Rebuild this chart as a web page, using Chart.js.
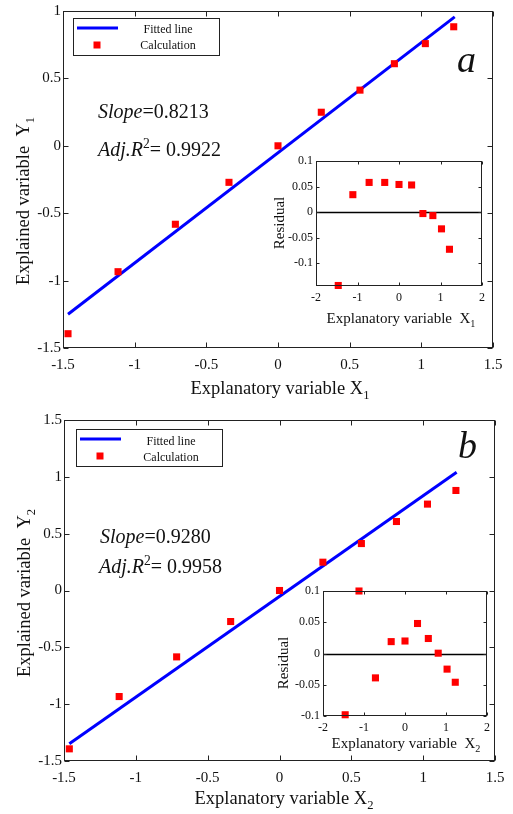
<!DOCTYPE html>
<html>
<head>
<meta charset="utf-8">
<script src="https://cdn.jsdelivr.net/npm/chart.js@4.4.1/dist/chart.umd.min.js"></script>
<style>
  body { margin: 0; background: #fff; }
  #wrap { position: relative; width: 513px; height: 814px; overflow: hidden; }
  canvas { position: absolute; }
</style>
</head>
<body>
<div id="wrap">
  <canvas id="mainA" width="513" height="400" style="left:0;top:0"></canvas>
  <canvas id="insetA" width="220" height="180" style="left:270px;top:150px"></canvas>
  <canvas id="mainB" width="513" height="414" style="left:0;top:400px"></canvas>
  <canvas id="insetB" width="220" height="180" style="left:275px;top:580px"></canvas>
</div>
<script>
// panel a
const xA = [-1.465, -1.116, -0.716, -0.342, 0, 0.302, 0.572, 0.812, 1.028, 1.226];
const yA = [-1.394, -0.934, -0.582, -0.271, 0, 0.249, 0.413, 0.609, 0.758, 0.883];
const fitXA = [-1.465, 1.233];
const fitYA = [-1.25, 0.956];
const residXA = [-1.464, -1.112, -0.72, -0.344, 0, 0.304, 0.576, 0.816, 1.024, 1.216];
const residYA = [-0.144, 0.034, 0.058, 0.058, 0.054, 0.053, -0.003, -0.007, -0.033, -0.073];

// panel b
const xB = [-1.463, -1.116, -0.716, -0.34, 0, 0.302, 0.57, 0.814, 1.03, 1.228];
const yB = [-1.393, -0.933, -0.584, -0.273, 0, 0.249, 0.413, 0.607, 0.76, 0.88];
const fitXB = [-1.463, 1.233];
const fitYB = [-1.349, 1.041];
const residXB = [-1.459, -1.122, -0.721, -0.337, 0, 0.305, 0.569, 0.81, 1.026, 1.226];
const residYB = [-0.098, 0.1, -0.039, 0.019, 0.02, 0.048, 0.024, 0.0005, -0.025, -0.046];

// ticks
const mainXTicks = [-1.5, -1, -0.5, 0, 0.5, 1, 1.5];
const mainYTicksA = [-1.5, -1, -0.5, 0, 0.5, 1];
const mainYTicksB = [-1.5, -1, -0.5, 0, 0.5, 1, 1.5];
const insetXTicks = [-2, -1, 0, 1, 2];
const insetYTicks = [-0.1, -0.05, 0, 0.05, 0.1];

const FONT = "'Liberation Serif', 'Times New Roman', serif";

function toPoints(xs, ys) {
  return xs.map((v, i) => ({ x: v, y: ys[i] }));
}

function fmt(v) {
  return String(Math.round(v * 1000) / 1000);
}

// draws a run of text pieces (italic / sub / sup) from x on baseline y
function drawParts(ctx, parts, x, y, size, align) {
  const pieces = parts.map(p => {
    const s = (p.sub || p.sup) ? size * 0.68 : size;
    const f = (p.italic ? 'italic ' : '') + s + 'px ' + FONT;
    ctx.font = f;
    return { t: p.t, f: f, w: ctx.measureText(p.t).width, dy: p.sub ? size * 0.28 : (p.sup ? -size * 0.4 : 0) };
  });
  const total = pieces.reduce((a, p) => a + p.w, 0);
  let cx = align === 'center' ? x - total / 2 : x;
  ctx.textAlign = 'left';
  ctx.textBaseline = 'alphabetic';
  pieces.forEach(p => {
    ctx.font = p.f;
    ctx.fillText(p.t, cx, y + p.dy);
    cx += p.w;
  });
}

const deco = {
  mainA: {
    tick: 5,
    xTitle: { parts: [{ t: 'Explanatory variable X' }, { t: '1', sub: true }], x: 280, y: 394, size: 18.5 },
    yTitle: { parts: [{ t: 'Explained variable  Y' }, { t: '1', sub: true }], x: 29, y: 201, size: 18.5 },
    legend: { box: [73, 18, 146, 37], line: [77, 118, 28], square: [97, 45], textX: 168, base: [33, 49] },
    notes: [
      { parts: [{ t: 'Slope', italic: true }, { t: '=0.8213' }], x: 98, y: 118, size: 20 },
      { parts: [{ t: 'Adj.R', italic: true }, { t: '2', sup: true }, { t: '= 0.9922' }], x: 98, y: 156, size: 20 },
      { parts: [{ t: 'a', italic: true }], x: 457, y: 72, size: 38 }
    ]
  },
  mainB: {
    tick: 5,
    xTitle: { parts: [{ t: 'Explanatory variable X' }, { t: '2', sub: true }], x: 284, y: 404, size: 18.5 },
    yTitle: { parts: [{ t: 'Explained variable  Y' }, { t: '2', sub: true }], x: 30, y: 193, size: 18.5 },
    legend: { box: [76, 29, 146, 37], line: [80, 121, 39], square: [100, 56], textX: 171, base: [45, 61] },
    notes: [
      { parts: [{ t: 'Slope', italic: true }, { t: '=0.9280' }], x: 100, y: 143, size: 20 },
      { parts: [{ t: 'Adj.R', italic: true }, { t: '2', sup: true }, { t: '= 0.9958' }], x: 99, y: 173, size: 20 },
      { parts: [{ t: 'b', italic: true }], x: 458, y: 58, size: 38 }
    ]
  },
  insetA: {
    tick: 3,
    zero: true,
    xTitle: { parts: [{ t: 'Explanatory variable  X' }, { t: '1', sub: true }], x: 131, y: 173, size: 15 },
    yTitle: { parts: [{ t: 'Residual' }], x: 14, y: 73, size: 15 },
    notes: []
  },
  insetB: {
    tick: 3,
    zero: true,
    xTitle: { parts: [{ t: 'Explanatory variable  X' }, { t: '2', sub: true }], x: 131, y: 168, size: 15 },
    yTitle: { parts: [{ t: 'Residual' }], x: 13, y: 83, size: 15 },
    notes: []
  }
};

const decoPlugin = {
  id: 'deco',
  beforeDatasetsDraw(chart) {
    const d = deco[chart.canvas.id];
    const { ctx, chartArea: a, scales: { y } } = chart;
    if (d.zero) {
      ctx.save();
      ctx.strokeStyle = '#000';
      ctx.lineWidth = 1.3;
      const py = Math.round(y.getPixelForValue(0)) + 0.5;
      ctx.beginPath();
      ctx.moveTo(a.left, py);
      ctx.lineTo(a.right, py);
      ctx.stroke();
      ctx.restore();
    }
  },
  beforeDraw(chart) {
    const d = deco[chart.canvas.id];
    const { ctx, chartArea: a } = chart;
    if (d.zero) {
      ctx.save();
      ctx.fillStyle = '#fff';
      ctx.fillRect(a.left, a.top, a.right - a.left, a.bottom - a.top);
      ctx.restore();
    }
  },
  afterDatasetsDraw(chart) {
    const d = deco[chart.canvas.id];
    const { ctx, chartArea: a, scales: { x, y } } = chart;
    ctx.save();
    // box and inward ticks
    ctx.strokeStyle = '#222';
    ctx.lineWidth = 1;
    const L = Math.round(a.left) + 0.5, R = Math.round(a.right) - 0.5;
    const T = Math.round(a.top) + 0.5, B = Math.round(a.bottom) - 0.5;
    ctx.strokeRect(L, T, R - L, B - T);
    ctx.beginPath();
    x.ticks.forEach(t => {
      const px = Math.round(x.getPixelForValue(t.value)) + 0.5;
      ctx.moveTo(px, B); ctx.lineTo(px, B - d.tick);
      ctx.moveTo(px, T); ctx.lineTo(px, T + d.tick);
    });
    y.ticks.forEach(t => {
      const py = Math.round(y.getPixelForValue(t.value)) + 0.5;
      ctx.moveTo(L, py); ctx.lineTo(L + d.tick, py);
      ctx.moveTo(R, py); ctx.lineTo(R - d.tick, py);
    });
    ctx.stroke();
    ctx.restore();
  },
  afterDraw(chart) {
    const d = deco[chart.canvas.id];
    const { ctx } = chart;
    ctx.save();
    ctx.fillStyle = '#111';
    drawParts(ctx, d.xTitle.parts, d.xTitle.x, d.xTitle.y, d.xTitle.size, 'center');
    ctx.save();
    ctx.translate(d.yTitle.x, d.yTitle.y);
    ctx.rotate(-Math.PI / 2);
    drawParts(ctx, d.yTitle.parts, 0, 0, d.yTitle.size, 'center');
    ctx.restore();

    d.notes.forEach(n => drawParts(ctx, n.parts, n.x, n.y, n.size, 'left'));

    if (d.legend) {
      const g = d.legend;
      const ds = chart.data.datasets;
      ctx.fillStyle = '#fff';
      ctx.fillRect(g.box[0], g.box[1], g.box[2], g.box[3]);
      ctx.strokeStyle = '#222';
      ctx.lineWidth = 1;
      ctx.strokeRect(g.box[0] + 0.5, g.box[1] + 0.5, g.box[2], g.box[3]);
      ctx.strokeStyle = ds[0].borderColor;
      ctx.lineWidth = 3;
      ctx.beginPath();
      ctx.moveTo(g.line[0], g.line[2]);
      ctx.lineTo(g.line[1], g.line[2]);
      ctx.stroke();
      ctx.fillStyle = ds[1].backgroundColor;
      ctx.fillRect(g.square[0] - 3.5, g.square[1] - 3.5, 7, 7);
      ctx.fillStyle = '#111';
      ctx.font = '12px ' + FONT;
      ctx.textAlign = 'center';
      ctx.textBaseline = 'alphabetic';
      ctx.fillText(ds[0].label, g.textX, g.base[0]);
      ctx.fillText(ds[1].label, g.textX, g.base[1]);
    }
    ctx.restore();
  }
};

function linearAxis(min, max, ticks, fontSize, padding, fitSize, isX) {
  return {
    type: 'linear',
    min: min,
    max: max,
    afterBuildTicks: s => { s.ticks = ticks.map(v => ({ value: v })); },
    afterFit: s => { if (isX) { s.height = fitSize; } else { s.width = fitSize; } },
    grid: { display: false, drawTicks: false },
    border: { display: false },
    ticks: {
      autoSkip: false,
      maxRotation: 0,
      padding: padding,
      color: '#111',
      font: { family: FONT, size: fontSize },
      callback: v => fmt(v)
    }
  };
}

function makeMain(id, xs, ys, fx, fy, yMax, yTicks, pad, xH) {
  return new Chart(document.getElementById(id), {
    type: 'scatter',
    data: {
      datasets: [
        {
          label: 'Fitted line',
          type: 'line',
          data: toPoints(fx, fy),
          borderColor: '#0000ff',
          borderWidth: 3,
          pointRadius: 0,
          fill: false,
          order: 1
        },
        {
          label: 'Calculation',
          data: toPoints(xs, ys),
          pointStyle: 'rect',
          pointRadius: 5,
          backgroundColor: '#ff0000',
          borderWidth: 0,
          clip: false,
          order: 0
        }
      ]
    },
    options: {
      responsive: false,
      animation: false,
      events: [],
      layout: { padding: pad },
      plugins: { legend: { display: false }, tooltip: { enabled: false } },
      scales: {
        x: linearAxis(-1.5, 1.5, mainXTicks, 15, 8, xH, true),
        y: linearAxis(-1.5, yMax, yTicks, 15, 2, 63, false)
      }
    },
    plugins: [decoPlugin]
  });
}

function makeInset(id, xs, ys, yMin, pad, xH, yW) {
  return new Chart(document.getElementById(id), {
    type: 'scatter',
    data: {
      datasets: [{
        label: 'Residual',
        data: toPoints(xs, ys),
        pointStyle: 'rect',
        pointRadius: 5,
        backgroundColor: '#ff0000',
        borderWidth: 0,
        clip: false
      }]
    },
    options: {
      responsive: false,
      animation: false,
      events: [],
      layout: { padding: pad },
      plugins: { legend: { display: false }, tooltip: { enabled: false } },
      scales: {
        x: linearAxis(-2, 2, insetXTicks, 12, 5, xH, true),
        y: linearAxis(yMin, 0.1, insetYTicks, 12, 3, yW, false)
      }
    },
    plugins: [decoPlugin]
  });
}

makeMain('mainA', xA, yA, fitXA, fitYA, 1, mainYTicksA, { top: 10, right: 20, left: 0, bottom: 0 }, 52);
makeMain('mainB', xB, yB, fitXB, fitYB, 1.5, mainYTicksB, { top: 20, right: 18, left: 1, bottom: 0 }, 53);
makeInset('insetA', residXA, residYA, -0.145, { top: 11, right: 7, left: 0, bottom: 0 }, 44, 46);
makeInset('insetB', residXB, residYB, -0.1, { top: 11, right: 6, left: 0, bottom: 0 }, 44, 48);
</script>
</body>
</html>
